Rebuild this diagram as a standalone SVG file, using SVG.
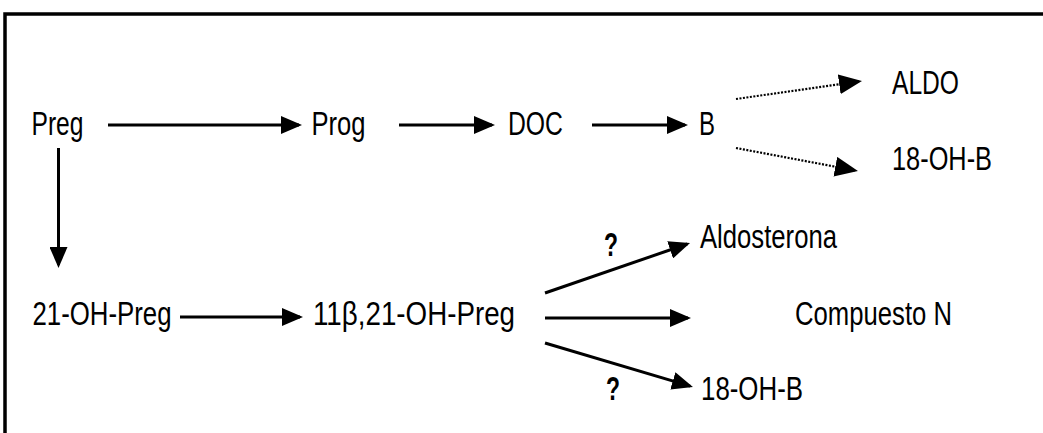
<svg xmlns="http://www.w3.org/2000/svg" width="1043" height="433" viewBox="0 0 1043 433">
<style>
  text { font-family: "Liberation Sans", Arial, sans-serif; font-size: 34px; fill: #000; }
  .q { font-weight: bold; }
  .ln { stroke: #000; stroke-width: 3; fill: none; }
  .dot { stroke: #000; stroke-width: 2.2; stroke-dasharray: 2 1.5; fill: none; }
  .frame { stroke: #000; stroke-width: 3.5; fill: none; }
</style>
<defs>
  <marker id="ah" markerUnits="userSpaceOnUse" markerWidth="21" markerHeight="18" refX="18" refY="9" orient="auto" viewBox="0 0 21 18">
    <path d="M0,0 L21,9 L0,18 z" fill="#000"/>
  </marker>
  <marker id="ahd" markerUnits="userSpaceOnUse" markerWidth="23" markerHeight="20" refX="20" refY="10" orient="auto" viewBox="0 0 23 20">
    <path d="M0,0 L23,10 L0,20 z" fill="#000"/>
  </marker>
</defs>
<rect width="1043" height="433" fill="#fff"/>
<path class="frame" d="M5,433 V14 H1043"/>

<g id="connectors">
  <line class="ln" x1="108" y1="125" x2="299" y2="125" marker-end="url(#ah)"/>
  <line class="ln" x1="399" y1="125" x2="492" y2="125" marker-end="url(#ah)"/>
  <line class="ln" x1="592" y1="125" x2="685" y2="125" marker-end="url(#ah)"/>
  <line class="ln" x1="58.5" y1="148" x2="58.5" y2="265" marker-end="url(#ah)"/>
  <line class="dot" x1="736" y1="99" x2="859" y2="81.4" marker-end="url(#ahd)"/>
  <line class="dot" x1="736" y1="148" x2="855" y2="170.4" marker-end="url(#ahd)"/>
  <line class="ln" x1="180" y1="317" x2="300" y2="317" marker-end="url(#ah)"/>
  <line class="ln" x1="545" y1="293" x2="687.2" y2="244" marker-end="url(#ah)"/>
  <line class="ln" x1="545" y1="318" x2="688" y2="318" marker-end="url(#ah)"/>
  <line class="ln" x1="545" y1="343" x2="690.1" y2="386.1" marker-end="url(#ah)"/>
</g>

<g id="n-preg"><text x="31.5" y="135" textLength="52" lengthAdjust="spacingAndGlyphs">Preg</text></g>
<g id="n-prog"><text x="311.5" y="135" textLength="54" lengthAdjust="spacingAndGlyphs">Prog</text></g>
<g id="n-doc"><text x="508" y="135" textLength="55" lengthAdjust="spacingAndGlyphs">DOC</text></g>
<g id="n-b"><text x="699" y="135" textLength="16" lengthAdjust="spacingAndGlyphs">B</text></g>
<g id="n-aldo"><text x="892" y="94" textLength="67" lengthAdjust="spacingAndGlyphs">ALDO</text></g>
<g id="n-18ohb-top"><text x="892" y="170" textLength="100" lengthAdjust="spacingAndGlyphs">18-OH-B</text></g>
<g id="n-21ohpreg"><text x="32.5" y="325" textLength="139" lengthAdjust="spacingAndGlyphs">21-OH-Preg</text></g>
<g id="n-11b21ohpreg"><text x="313" y="325" textLength="202" lengthAdjust="spacingAndGlyphs">11β,21-OH-Preg</text></g>
<g id="n-aldosterona"><text x="700" y="248" textLength="137" lengthAdjust="spacingAndGlyphs">Aldosterona</text></g>
<g id="n-compuesto"><text x="795" y="325" textLength="157" lengthAdjust="spacingAndGlyphs">Compuesto N</text></g>
<g id="n-18ohb-bottom"><text x="701" y="400" textLength="102" lengthAdjust="spacingAndGlyphs">18-OH-B</text></g>
<g id="q-upper"><text class="q" x="604" y="256" textLength="14" lengthAdjust="spacingAndGlyphs">?</text></g>
<g id="q-lower"><text class="q" x="606" y="400" textLength="14" lengthAdjust="spacingAndGlyphs">?</text></g>
</svg>
